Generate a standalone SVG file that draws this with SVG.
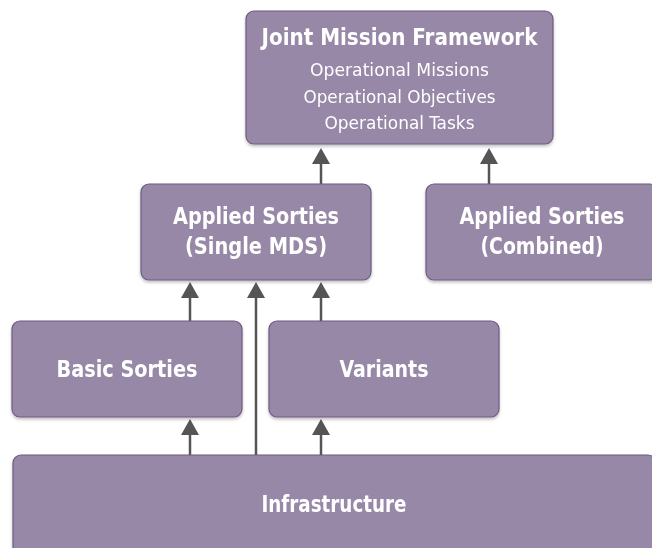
<svg xmlns="http://www.w3.org/2000/svg" width="652" height="548" viewBox="0 0 652 548">
<defs>
<style>
.box{fill:#9788a8;stroke:#6e5a82;stroke-width:1.2}
.t{font-family:"DejaVu Sans Condensed","Liberation Sans",sans-serif;font-stretch:condensed;fill:#ffffff;text-anchor:middle}
.b{font-weight:bold;font-size:22.5px}
.r{font-size:18px}
.c{stroke:#555555;stroke-width:2.5;fill:none}
.h{fill:#555555}
</style>
<filter id="sh" x="-5%" y="-5%" width="110%" height="120%">
<feDropShadow dx="0" dy="2" stdDeviation="1.5" flood-color="#000" flood-opacity="0.25"/>
</filter>
</defs>
<rect width="652" height="548" fill="#ffffff"/>
<g id="connectors">
<line class="c" x1="321" y1="184" x2="321" y2="162"/><polygon class="h" points="321,148 312,164 330,164"/>
<line class="c" x1="489" y1="184" x2="489" y2="162"/><polygon class="h" points="489,148 480,164 498,164"/>
<line class="c" x1="190" y1="321" x2="190" y2="296"/><polygon class="h" points="190,282 181,298 199,298"/>
<line class="c" x1="256" y1="455" x2="256" y2="296"/><polygon class="h" points="256,282 247,298 265,298"/>
<line class="c" x1="321" y1="321" x2="321" y2="296"/><polygon class="h" points="321,282 312,298 330,298"/>
<line class="c" x1="190" y1="455" x2="190" y2="433"/><polygon class="h" points="190,419 181,435 199,435"/>
<line class="c" x1="321" y1="455" x2="321" y2="433"/><polygon class="h" points="321,419 312,435 330,435"/>
</g>
<g id="jmf" filter="url(#sh)">
<rect class="box" x="246" y="11" width="307" height="133" rx="8"/>
<text class="t b" x="399.5" y="45" textLength="276" lengthAdjust="spacingAndGlyphs">Joint Mission Framework</text>
<text class="t r" x="399.5" y="76" textLength="179" lengthAdjust="spacingAndGlyphs">Operational Missions</text>
<text class="t r" x="399.5" y="102.5" textLength="192" lengthAdjust="spacingAndGlyphs">Operational Objectives</text>
<text class="t r" x="399.5" y="129" textLength="150" lengthAdjust="spacingAndGlyphs">Operational Tasks</text>
</g>
<g id="applied-single" filter="url(#sh)">
<rect class="box" x="141" y="184" width="230" height="96" rx="8"/>
<text class="t b" x="256" y="224" textLength="166" lengthAdjust="spacingAndGlyphs">Applied Sorties</text>
<text class="t b" x="256" y="254" textLength="142" lengthAdjust="spacingAndGlyphs">(Single MDS)</text>
</g>
<g id="applied-combined" filter="url(#sh)">
<rect class="box" x="426" y="184" width="232" height="96" rx="8"/>
<text class="t b" x="542" y="224" textLength="165" lengthAdjust="spacingAndGlyphs">Applied Sorties</text>
<text class="t b" x="542" y="254" textLength="123" lengthAdjust="spacingAndGlyphs">(Combined)</text>
</g>
<g id="basic" filter="url(#sh)">
<rect class="box" x="12" y="321" width="230" height="96" rx="8"/>
<text class="t b" x="127" y="376.5" textLength="141" lengthAdjust="spacingAndGlyphs">Basic Sorties</text>
</g>
<g id="variants" filter="url(#sh)">
<rect class="box" x="269" y="321" width="230" height="96" rx="8"/>
<text class="t b" x="384" y="376.5" textLength="89" lengthAdjust="spacingAndGlyphs">Variants</text>
</g>
<g id="infrastructure" filter="url(#sh)">
<rect class="box" x="13" y="455" width="643" height="100" rx="8"/>
<text class="t b" x="334" y="511.5" textLength="145" lengthAdjust="spacingAndGlyphs">Infrastructure</text>
</g>
</svg>
